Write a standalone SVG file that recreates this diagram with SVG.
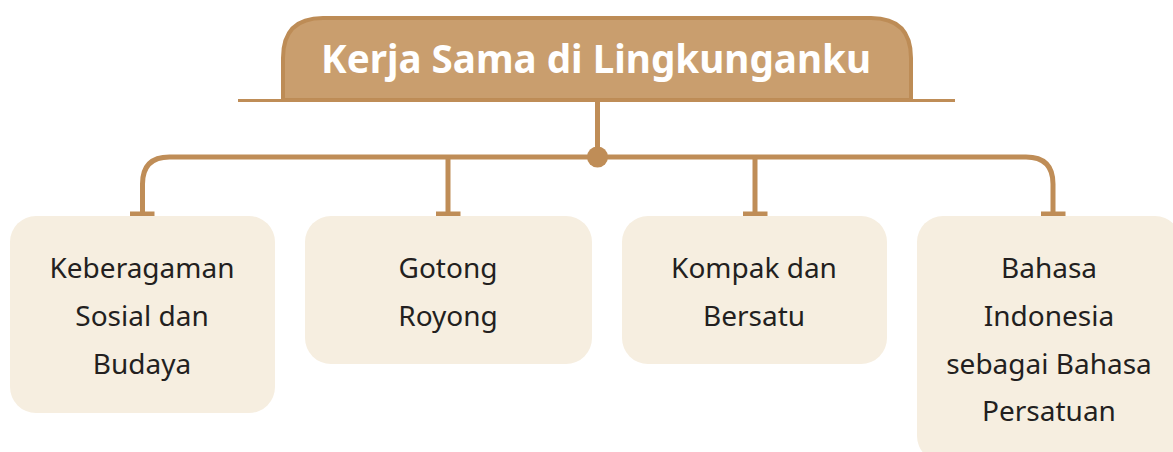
<svg xmlns="http://www.w3.org/2000/svg" width="1173" height="452" viewBox="0 0 1173 452">
<style>
.ln{fill:none;stroke:#bf8d57;stroke-width:5}
.box{fill:#f6eee0}
.t{font-family:"Noto Sans","Liberation Sans",sans-serif;font-size:28px;fill:#231f20;text-anchor:middle}
.title{font-family:"Noto Sans","Liberation Sans",sans-serif;font-size:39px;font-weight:bold;fill:#ffffff;text-anchor:middle}
</style>
<rect width="1173" height="452" fill="#ffffff"/>
<g id="title">
<path d="M283,100 V58 Q283,18 323,18 H871 Q911,18 911,58 V100 Z" fill="#c99e6e" stroke="#bd8c56" stroke-width="4"/>
<line x1="238" y1="100.5" x2="955" y2="100.5" stroke="#bf8d57" stroke-width="3"/>
<text class="title" x="596" y="73" textLength="550" lengthAdjust="spacingAndGlyphs">Kerja Sama di Lingkunganku</text>
</g>
<g id="connectors">
<line class="ln" x1="597.5" y1="101" x2="597.5" y2="157"/>
<path class="ln" d="M142.5,214 V184 Q142.5,157 169.5,157 H1026 Q1053,157 1053,184 V214"/>
<line class="ln" x1="448" y1="157" x2="448" y2="214"/>
<line class="ln" x1="755" y1="157" x2="755" y2="214"/>
<circle cx="597.5" cy="157" r="10.5" fill="#bf8d57"/>
<g fill="#bf8d57">
<rect x="130" y="211.5" width="24.5" height="5"/>
<rect x="436" y="211.5" width="24.5" height="5"/>
<rect x="743" y="211.5" width="24.5" height="5"/>
<rect x="1041" y="211.5" width="24.5" height="5"/>
</g>
</g>
<g id="n1">
<rect class="box" x="10" y="216" width="265" height="197" rx="26"/>
<text class="t" x="142" y="278">Keberagaman</text>
<text class="t" x="142" y="326">Sosial dan</text>
<text class="t" x="142" y="374">Budaya</text>
</g>
<g id="n2">
<rect class="box" x="305" y="216" width="287" height="148" rx="26"/>
<text class="t" x="448" y="278">Gotong</text>
<text class="t" x="448" y="326">Royong</text>
</g>
<g id="n3">
<rect class="box" x="622" y="216" width="265" height="148" rx="26"/>
<text class="t" x="754" y="278">Kompak dan</text>
<text class="t" x="754" y="326">Bersatu</text>
</g>
<g id="n4">
<rect class="box" x="917" y="216" width="264" height="246" rx="26"/>
<text class="t" x="1049" y="278">Bahasa</text>
<text class="t" x="1049" y="326">Indonesia</text>
<text class="t" x="1049" y="374">sebagai Bahasa</text>
<text class="t" x="1049" y="421">Persatuan</text>
</g>
</svg>
